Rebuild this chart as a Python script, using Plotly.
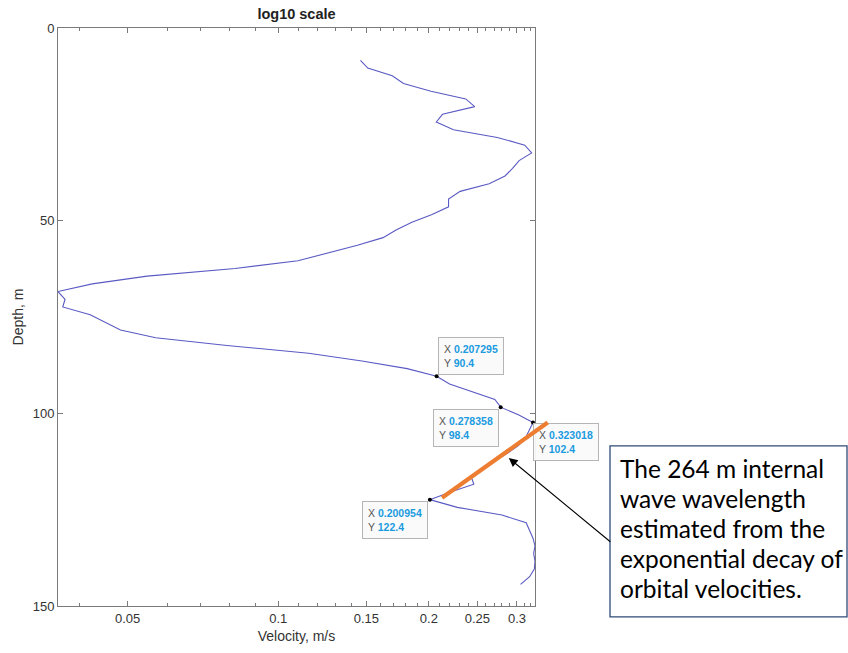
import numpy as np
import plotly.graph_objects as go

# ---------------- data ----------------
depth = [8.4, 10.4, 12.4, 14.4, 16.4, 18.4, 20.4, 22.4, 24.4, 26.4,
         28.4, 30.4, 32.4, 34.4, 36.4, 38.4, 40.4, 42.4, 44.4, 46.4,
         48.4, 50.4, 52.4, 54.4, 56.4, 58.4, 60.4, 62.4, 64.4, 66.4,
         68.4, 70.4, 72.4, 74.4, 76.4, 78.4, 80.4, 82.4, 84.4, 86.4,
         88.4, 90.4, 92.4, 94.4, 96.4, 98.4, 100.4, 102.4, 104.4, 106.4,
         108.4, 110.4, 112.4, 114.4, 116.4, 118.4, 120.4, 122.4, 124.4, 126.4,
         128.4, 130.4, 132.4, 134.4, 136.4, 138.4, 140.4, 142.4, 144.4]
velocity = [0.146, 0.151, 0.169, 0.178, 0.202, 0.237, 0.247, 0.213, 0.207, 0.224,
            0.274, 0.311, 0.321, 0.303, 0.294, 0.284, 0.264, 0.231, 0.219, 0.219,
            0.203, 0.185, 0.172, 0.162, 0.144, 0.126, 0.1095, 0.082, 0.0547, 0.0425,
            0.0363, 0.0375, 0.0371, 0.0421, 0.0452, 0.0484, 0.0569, 0.079, 0.115, 0.147,
            0.181, 0.207295, 0.220, 0.244, 0.271, 0.278358, 0.302, 0.323018, 0.317, 0.312,
            0.302, 0.287, 0.271, 0.258, 0.243, 0.246, 0.221, 0.200954, 0.228, 0.280,
            0.313, 0.318, 0.323, 0.326, 0.324, 0.326, 0.325, 0.318, 0.305]

tip_v = [0.207295, 0.278358, 0.323018, 0.200954]
tip_d = [90.4, 98.4, 102.4, 122.4]

fit_v = [0.2125, 0.348]      # orange exponential-decay line end points
fit_d = [121.9, 102.1]

arrow_v, arrow_d = 0.289, 111.6

x_major = [0.05, 0.1, 0.15, 0.2, 0.25, 0.3]
x_major_text = ["0.05", "0.1", "0.15", "0.2", "0.25", "0.3"]
x_minor = [0.04, 0.06, 0.07, 0.08, 0.09, 0.11, 0.12, 0.13, 0.14, 0.16, 0.17, 0.18,
           0.19, 0.21, 0.22, 0.23, 0.24, 0.26, 0.27, 0.28, 0.29, 0.31, 0.32]
y_ticks = [0, 50, 100, 150]

note_lines = ["The 264 m internal", "wave wavelength", "estimated from the",
              "exponential decay of", "orbital velocities."]

# ---------------- layout geometry ----------------
W, H = 848, 653
ML, MR, MT, MB = 58, 313, 27.5, 44
PW, PH = W - ML - MR, H - MT - MB
YMIN, YMAX = 0, 150
lx0, lx1 = np.log10(min(velocity)), np.log10(max(velocity))


def px2x(px):
    return (px - ML) / PW


def py2y(py):
    return (H - MB - py) / PH


AX = "#7a7a7a"
TXT = "#333333"
FONT = "Liberation Sans, Arial, sans-serif"

fig = go.Figure()
fig.add_trace(go.Scatter(x=velocity, y=depth, mode="lines",
                         line=dict(color="#5a5ac4", width=1.1),
                         hoverinfo="skip", showlegend=False))
fig.add_trace(go.Scatter(x=tip_v, y=tip_d, mode="markers",
                         marker=dict(color="black", size=4),
                         hoverinfo="skip", showlegend=False, cliponaxis=False))

shapes = []
# note box
shapes.append(dict(type="rect", xref="paper", yref="paper",
                   x0=px2x(610), x1=px2x(847), y0=py2y(620), y1=py2y(448),
                   line=dict(color="#2F4A7A", width=1.3), fillcolor="white", layer="above"))

annotations = []
# data tips
tip_pos = [("left", "bottom", 1, 1), ("right", "top", -2, -2),
           ("left", "top", 0, 0), ("right", "top", -2, -1)]
for v, d, (xa, ya, xs, ys) in zip(tip_v, tip_d, tip_pos):
    txt = (f"<span style='color:#555555'>X</span> <b>{v}</b><br>"
           f"<span style='color:#555555'>Y</span> <b>{d}</b>")
    annotations.append(dict(x=np.log10(v), y=d, xref="x", yref="y", text=txt,
                            showarrow=False, xanchor=xa, yanchor=ya, xshift=xs, yshift=ys,
                            align="left", font=dict(family=FONT, size=10.5, color="#1a9be0"),
                            bgcolor="rgba(250,250,250,0.95)", bordercolor="#b5b5b5",
                            borderwidth=1, borderpad=5))
# orange fit line (drawn on top of the data tips, may leave the axes)
annotations.append(dict(x=np.log10(fit_v[0]), y=fit_d[0], xref="x", yref="y",
                        ax=np.log10(fit_v[1]), ay=fit_d[1], axref="x", ayref="y",
                        text="", showarrow=True, arrowhead=0, arrowwidth=4.2,
                        arrowcolor="#ED7D31", standoff=0, startstandoff=0))
# arrow
annotations.append(dict(x=np.log10(arrow_v), y=arrow_d, xref="x", yref="y", text="",
                        showarrow=True, ax=103, ay=85, arrowhead=2, arrowsize=1.6,
                        arrowwidth=1.1, arrowcolor="black", standoff=0))
# note text, one line every 30 px
for i, line in enumerate(note_lines):
    annotations.append(dict(x=px2x(618), y=py2y(471 + 30 * i), xref="paper", yref="paper",
                            xanchor="left", yanchor="middle", align="left", showarrow=False,
                            text=line,
                            font=dict(family="Lato, Open Sans, sans-serif", size=24.5,
                                      color="black")))

fig.update_layout(
    width=W, height=H,
    margin=dict(l=ML, r=MR, t=MT, b=MB, pad=0),
    paper_bgcolor="white", plot_bgcolor="white",
    font=dict(family=FONT, color=TXT),
    title=dict(text="<b>log10 scale</b>", x=(ML + PW / 2) / W, xanchor="center",
               y=1 - 14 / H, yanchor="middle", font=dict(size=14.5, color="#222222")),
    xaxis=dict(type="log", range=[lx0, lx1], tickmode="array", tickvals=x_major,
               ticktext=x_major_text, ticks="inside", ticklen=5, tickcolor=AX,
               showline=True, linecolor=AX, linewidth=1, mirror="allticks",
               showgrid=False, zeroline=False, tickfont=dict(size=13, color=TXT),
               minor=dict(tickvals=x_minor, ticks="inside", ticklen=3, tickcolor=AX),
               title=dict(text="Velocity, m/s", font=dict(size=14, color=TXT), standoff=6)),
    yaxis=dict(range=[YMAX, YMIN], tickmode="array", tickvals=y_ticks,
               ticks="inside", ticklen=5, tickcolor=AX,
               showline=True, linecolor=AX, linewidth=1, mirror="allticks",
               showgrid=False, zeroline=False, tickfont=dict(size=13, color=TXT),
               title=dict(text="Depth, m", font=dict(size=14, color=TXT), standoff=5)),
    shapes=shapes, annotations=annotations,
)

fig.write_html("out.html")
